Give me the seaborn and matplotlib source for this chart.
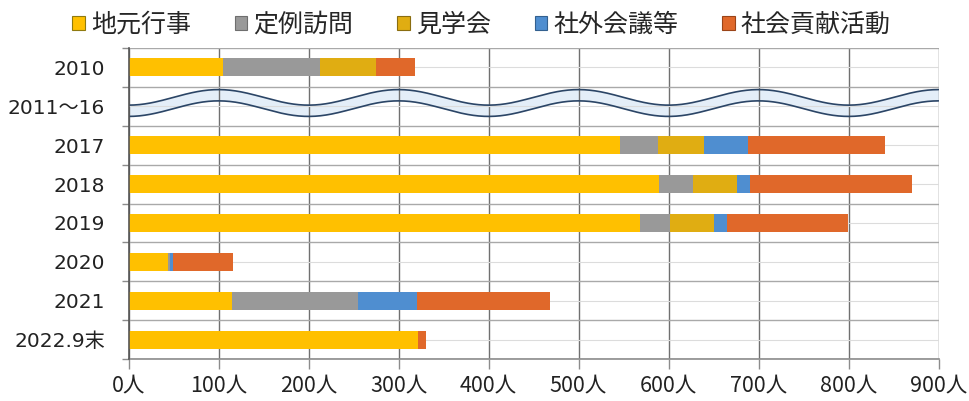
import numpy as np
import pandas as pd
import matplotlib
matplotlib.use('Agg')
import matplotlib.pyplot as plt
import seaborn as sns
from matplotlib.patches import Patch
from matplotlib.font_manager import FontProperties

# ---- data ----
years = ['2010', '2011〜16', '2017', '2018', '2019', '2020', '2021', '2022.9末']
series = ['地元行事', '定例訪問', '見学会', '社外会議等', '社会貢献活動']
jimoto = [105, 0, 546, 589, 568, 44, 115, 322]
teirei = [108, 0, 42, 38, 34, 2, 140, 0]
kengaku = [62, 0, 51, 49, 49, 0, 0, 0]
shagai = [0, 0, 49, 14, 14, 3, 66, 0]
shakai = [43, 0, 152, 181, 134, 67, 147, 8]
x_ticks = [0, 100, 200, 300, 400, 500, 600, 700, 800, 900]
x_tick_labels = [f'{v}人' for v in x_ticks]
gap_row = '2011〜16'

colors = ['#FFC000', '#999999', '#E0AD12', '#4F8ED0', '#E0682A']
edge_colors = ['#8f7a10', '#6e6e6e', '#8a6d10', '#33608f', '#9a4418']

sns.set_theme(style='white')
plt.rcParams['font.family'] = ['DejaVu Sans', 'Noto Sans CJK JP']

df = pd.DataFrame({'year': years, series[0]: jimoto, series[1]: teirei,
                   series[2]: kengaku, series[3]: shagai, series[4]: shakai})
cum = df[series].cumsum(axis=1)
for s in series:
    df['cum_' + s] = cum[s]

fig = plt.figure(figsize=(9.69, 4.01), dpi=100)
ax = fig.add_axes([128.5 / 969, 1 - 359 / 401, (938.5 - 128.5) / 969, (359 - 48) / 401])

# stacked bars (drawn as overlapping cumulative layers, longest first)
for i in range(len(series) - 1, -1, -1):
    sns.barplot(data=df, y='year', x='cum_' + series[i], order=years, orient='y',
                color=colors[i], saturation=1, width=0.46, errorbar=None,
                linewidth=0, ax=ax, zorder=3)

# wavy break marker for the omitted period
gi = years.index(gap_row)
xw = np.linspace(0, 900, 600)
yu = gi - 0.23 + 0.2 * np.cos(np.pi * xw / 100)
yl = gi + 0.06 + 0.2 * np.cos(np.pi * xw / 100)
ax.fill_between(xw, yu, yl, color='#e4eef8', zorder=0.3, lw=0)
ax.plot(xw, yu, color='#2b4566', lw=1.2, zorder=4)
ax.plot(xw, yl, color='#2b4566', lw=1.2, zorder=4)

ax.set_xlim(0, 900)
ax.set_ylim(len(years) - 0.5, -0.5)
ax.set_xlabel('')
ax.set_ylabel('')

ax.set_axisbelow(True)
ax.set_xticks(x_ticks)
ax.set_xticklabels(x_tick_labels, fontproperties=FontProperties(family='Noto Sans CJK JP', size=15.5),
                   color='#222222')
ax.set_yticks(range(len(years)))
ax.set_yticklabels(years, fontsize=14.5, color='#222222')
ax.set_yticks(np.arange(-0.5, len(years), 1.0), minor=True)

ax.xaxis.grid(True, which='major', color='#707070', lw=1.0)
ax.yaxis.grid(True, which='minor', color='#a9a9a9', lw=1.0)
ax.yaxis.grid(True, which='major', color='#dcdcdc', lw=0.8)

ax.tick_params(axis='x', which='major', direction='out', length=7, width=1, color='#8c8c8c', pad=4,
               bottom=True)
ax.tick_params(axis='y', which='major', length=0, pad=17, left=True)
ax.tick_params(axis='y', which='minor', direction='out', length=5, width=1, color='#8c8c8c', left=True)

for side in ['top', 'right']:
    ax.spines[side].set_visible(False)
ax.spines['left'].set_color('#555555')
ax.spines['left'].set_linewidth(1.2)
ax.spines['bottom'].set_color('#8c8c8c')
ax.spines['bottom'].set_linewidth(1.2)
ax.spines['left'].set_zorder(5)

handles = [Patch(facecolor=c, edgecolor=e, linewidth=0.8) for c, e in zip(colors, edge_colors)]
fig.legend(handles, series, loc='center', bbox_to_anchor=(481.5 / 969, 1 - 25 / 401), ncol=5,
           frameon=False, prop=FontProperties(family='Noto Sans CJK JP', size=18),
           handlelength=0.5, handleheight=0.48, handletextpad=0.25, columnspacing=1.75,
           borderaxespad=0, borderpad=0)

fig.savefig('out.png', dpi=100)
